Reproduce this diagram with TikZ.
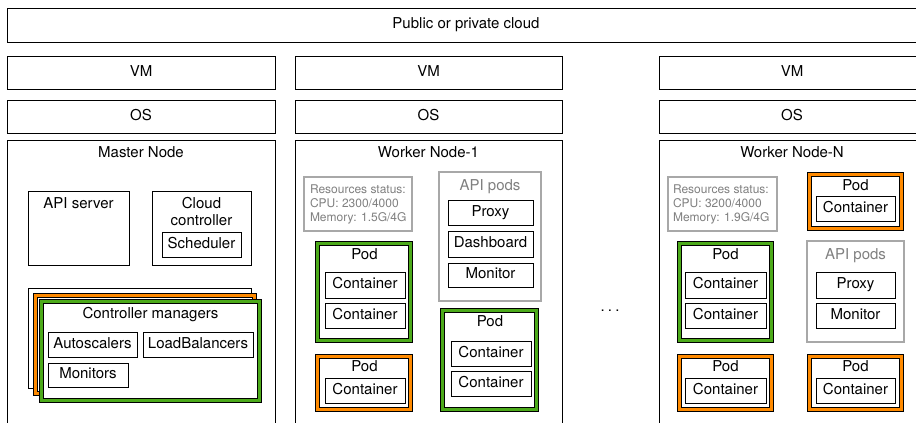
\documentclass[tikz,border=0pt]{standalone}
\usepackage{fontspec}
\setmainfont{TeX Gyre Heros}
\usetikzlibrary{shadows}
\definecolor{podgreen}{RGB}{76,170,26}
\definecolor{podorange}{RGB}{255,138,0}
\definecolor{boxgray}{RGB}{168,168,168}
\definecolor{txtgray}{RGB}{128,128,128}
\tikzset{
  base/.style={inner sep=0pt, outer sep=0pt, text height=0.72em, text depth=0pt, font=\fontsize{15}{18}\selectfont},
  shad/.style={drop shadow={shadow xshift=0.5pt, shadow yshift=-1.3pt, opacity=0.25, fill=black}},
  box/.style={base, draw=black, line width=0.9pt, fill=white, shad},
  graybox/.style={base, draw=boxgray, line width=1.6pt, fill=white},
  pod/.style={base, draw=black, line width=1pt, double=#1, double distance=2.6pt, fill=white, shad},
  lbl/.style={base},
  graylbl/.style={base, text=txtgray},
  status/.style={inner sep=0pt, outer sep=0pt, anchor=north west, align=left, text=txtgray, font=\fontsize{12}{14}\selectfont},
}
\newcommand\bx[7]{\node[#6, minimum width={(#4)-(#2)}, minimum height={(#5)-(#3)}] (#1) at ({((#2)+(#4))/2},{((#3)+(#5))/2}) {#7};}
\newcommand\pd[6]{\bx{#1}{#2+2.6}{#3+2.6}{#4-2.6}{#5-2.6}{pod=#6}{}}
\begin{document}
\begin{tikzpicture}[x=1pt,y=-1pt]
\clip (0,0) rectangle (916,423);
\fill[white] (0,0) rectangle (916,423);
% cloud / VM / OS
\bx{cloud}{7}{8}{925}{42}{box}{}
\node[lbl] (cloudt) at (466,25) {Public or private cloud};
\bx{vm1}{7}{56}{275}{89}{box}{VM}
\bx{vm2}{295}{56}{562}{89}{box}{VM}
\bx{vm3}{659}{56}{925}{89}{box}{VM}
\bx{os1}{7}{100}{275}{133}{box}{OS}
\bx{os2}{295}{100}{562}{133}{box}{OS}
\bx{os3}{659}{100}{925}{133}{box}{OS}
% Master node
\bx{master}{7}{140}{275}{440}{box}{}
\node[lbl] (mastert) at (141,154) {Master Node};
\bx{api}{28}{191}{129}{265}{box}{}
\node[lbl] (apit) at (78.5,205) {API server};
\bx{cc}{152}{191}{251}{265}{box}{}
\node[lbl] (cct1) at (201.5,205) {Cloud};
\node[lbl] (cct2) at (201.5,222) {controller};
\bx{sched}{162}{232}{241}{257}{box}{Scheduler}
\bx{cmback}{28}{288}{251}{388}{box}{}
\pd{cmor}{33}{293}{257}{396}{podorange}
\pd{cmgr}{39}{299}{262}{403}{podgreen}
\node[lbl] (cmt) at (150.5,315) {Controller managers};
\bx{autos}{48}{332}{137}{357}{box}{Autoscalers}
\bx{lbs}{143}{332}{253}{357}{box}{LoadBalancers}
\bx{mons}{48}{363}{128}{387}{box}{Monitors}
% Worker node 1
\bx{w1}{295}{140}{562}{440}{box}{}
\node[lbl] (w1t) at (428.5,154) {Worker Node-1};
\bx{res1}{304}{177}{412}{231}{graybox}{}
\node[status] (res1t) at (310,184.5) {Resources status:\\CPU: 2300/4000\\Memory: 1.5G/4G};
\bx{apip1}{439}{172}{541}{301}{graybox}{}
\node[graylbl] (apip1t) at (490,187) {API pods};
\bx{proxy1}{448}{200}{533}{225}{box}{Proxy}
\bx{dash1}{448}{231}{533}{257}{box}{Dashboard}
\bx{mon1}{448}{263}{533}{287}{box}{Monitor}
\pd{p11}{315}{241}{413}{343}{podgreen}
\node[lbl] (p11t) at (364.5,256) {Pod};
\bx{c111}{325}{272}{405}{298}{box}{Container}
\bx{c112}{325}{303}{405}{328}{box}{Container}
\pd{p12}{315}{354}{413}{412}{podorange}
\node[lbl] (p12t) at (364.5,368) {Pod};
\bx{c121}{325}{378}{405}{403}{box}{Container}
\pd{p13}{440}{308}{539}{412}{podgreen}
\node[lbl] (p13t) at (490,323) {Pod};
\bx{c131}{451}{341}{531}{366}{box}{Container}
\bx{c132}{451}{371}{531}{396}{box}{Container}
% ellipsis
\node[inner sep=0pt, anchor=base, font=\fontsize{15}{18}\selectfont] (dots) at (610,311) {.\kern3.2pt.\kern3.2pt.};
% Worker node N
\bx{wn}{659}{140}{925}{440}{box}{}
\node[lbl] (wnt) at (792,154) {Worker Node-N};
\bx{resn}{668}{177}{777}{231}{graybox}{}
\node[status] (resnt) at (673,184.5) {Resources status:\\CPU: 3200/4000\\Memory: 1.9G/4G};
\pd{pn1}{807}{172}{904}{231}{podorange}
\node[lbl] (pn1t) at (855.5,187) {Pod};
\bx{cn11}{816}{196}{895}{221}{box}{Container}
\pd{pn2}{677}{241}{774}{343}{podgreen}
\node[lbl] (pn2t) at (725.5,256) {Pod};
\bx{cn21}{685}{272}{766}{298}{box}{Container}
\bx{cn22}{685}{303}{766}{328}{box}{Container}
\bx{apipn}{807}{241}{904}{342}{graybox}{}
\node[graylbl] (apipnt) at (855.5,256) {API pods};
\bx{proxyn}{816}{272}{895}{298}{box}{Proxy}
\bx{monn}{816}{303}{895}{328}{box}{Monitor}
\pd{pn3}{677}{354}{774}{412}{podorange}
\node[lbl] (pn3t) at (725.5,368) {Pod};
\bx{cn31}{685}{378}{766}{403}{box}{Container}
\pd{pn4}{807}{354}{904}{412}{podorange}
\node[lbl] (pn4t) at (855.5,368) {Pod};
\bx{cn41}{816}{378}{895}{403}{box}{Container}
\end{tikzpicture}
\end{document}
